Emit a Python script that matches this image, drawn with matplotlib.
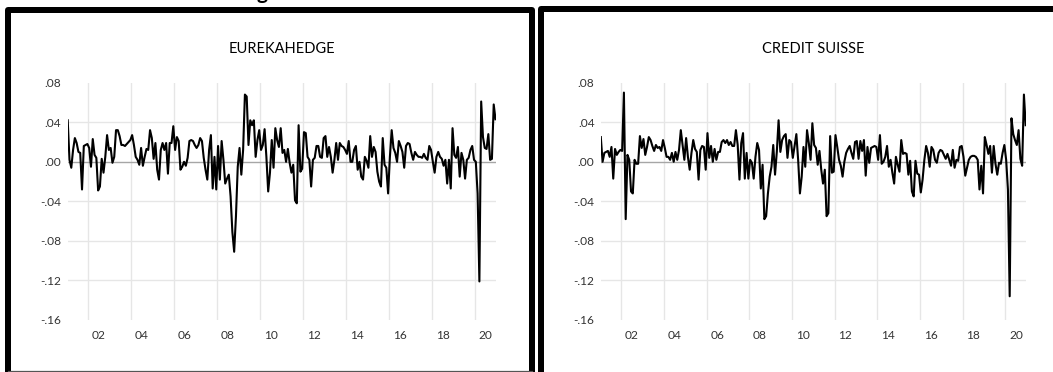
import numpy as np
import matplotlib.pyplot as plt
from matplotlib.lines import Line2D

plt.rcParams['font.family'] = ['Lato', 'DejaVu Sans']

# monthly returns, 2001M01 - 2020M12, one row per year
eurekahedge = [
    0.042, 0.002, -0.006, 0.012, 0.024, 0.019, 0.010, 0.009, -0.028, 0.016, 0.017, 0.018,
    0.014, -0.005, 0.023, 0.007, 0.004, -0.029, -0.025, 0.003, -0.011, 0.005, 0.027, 0.012,
    0.014, -0.001, 0.005, 0.032, 0.032, 0.026, 0.017, 0.017, 0.016, 0.018, 0.020, 0.022,
    0.027, 0.017, 0.005, 0.002, -0.003, 0.014, -0.004, 0.005, 0.013, 0.012, 0.032, 0.024,
    0.003, 0.019, -0.008, -0.018, 0.012, 0.019, 0.012, 0.019, -0.012, 0.019, 0.019, 0.036,
    0.012, 0.025, 0.021, -0.008, -0.005, 0.000, -0.004, 0.004, 0.021, 0.022, 0.021, 0.017,
    0.014, 0.017, 0.024, 0.021, 0.004, -0.008, -0.018, 0.012, 0.027, -0.027, 0.005, -0.028,
    0.016, -0.018, 0.021, 0.002, -0.022, -0.017, -0.013, -0.035, -0.071, -0.091, -0.055, -0.005,
    0.014, -0.013, 0.012, 0.068, 0.066, 0.017, 0.042, 0.037, 0.042, 0.005, 0.022, 0.032,
    0.012, 0.017, 0.033, 0.005, -0.030, -0.011, 0.022, -0.006, 0.034, 0.022, 0.015, 0.034,
    0.009, 0.012, 0.000, 0.013, -0.001, -0.011, -0.003, -0.039, -0.042, 0.037, -0.010, -0.007,
    0.030, 0.029, 0.005, 0.002, -0.025, 0.002, 0.004, 0.016, 0.016, 0.005, 0.004, 0.024,
    0.026, 0.005, 0.015, 0.005, -0.011, 0.002, 0.019, 0.002, 0.019, 0.016, 0.015, 0.012,
    0.008, 0.021, 0.000, 0.000, 0.012, 0.016, -0.008, 0.000, -0.015, -0.018, 0.005, 0.001,
    -0.006, 0.026, 0.005, 0.015, 0.010, -0.010, -0.020, -0.025, 0.024, -0.003, -0.006, -0.032,
    0.005, 0.032, 0.014, 0.009, 0.000, 0.021, 0.016, 0.010, -0.006, 0.016, 0.019, 0.018,
    0.009, 0.002, 0.010, 0.007, 0.005, 0.005, 0.004, 0.008, 0.004, 0.002, 0.016, 0.012,
    0.000, -0.011, 0.005, 0.010, 0.005, 0.003, -0.004, 0.002, -0.022, 0.002, -0.027, 0.034,
    0.007, 0.004, 0.015, -0.015, 0.009, 0.002, -0.017, 0.002, 0.004, 0.012, 0.016, 0.002,
    0.000, -0.032, -0.121, 0.061, 0.025, 0.014, 0.013, 0.028, 0.002, 0.003, 0.058, 0.043,
]

credit_suisse = [
    0.025, 0.000, 0.009, 0.010, 0.011, 0.005, 0.015, -0.017, 0.013, 0.007, 0.010, 0.012,
    0.011, 0.070, -0.058, 0.007, 0.002, -0.030, -0.032, 0.002, -0.002, -0.002, 0.026, 0.014,
    0.023, 0.007, 0.015, 0.025, 0.022, 0.016, 0.011, 0.017, 0.014, 0.015, 0.011, 0.022,
    0.014, 0.005, 0.005, 0.002, 0.009, 0.000, 0.010, 0.002, 0.012, 0.032, 0.017, 0.002,
    0.024, 0.005, -0.008, 0.009, 0.022, 0.013, 0.010, -0.018, 0.012, 0.016, 0.015, -0.008,
    0.029, 0.004, 0.016, 0.000, 0.013, 0.002, 0.010, 0.010, 0.020, 0.022, 0.019, 0.022,
    0.017, 0.020, 0.016, 0.016, 0.032, 0.017, -0.018, 0.019, 0.029, -0.017, 0.009, -0.017,
    0.002, -0.001, -0.017, 0.005, 0.019, 0.012, -0.027, -0.003, -0.058, -0.055, -0.032, -0.015,
    -0.005, 0.017, -0.013, 0.010, 0.042, 0.010, 0.022, 0.026, 0.028, 0.004, 0.022, 0.020,
    0.004, 0.016, 0.028, 0.002, -0.032, -0.015, 0.015, -0.005, 0.032, 0.019, 0.002, 0.039,
    0.017, 0.014, -0.003, 0.011, -0.008, -0.022, -0.008, -0.055, -0.052, 0.026, -0.011, -0.010,
    0.027, 0.015, 0.002, -0.004, -0.015, 0.000, 0.009, 0.013, 0.016, 0.009, 0.003, 0.020,
    0.021, 0.003, 0.021, 0.011, 0.022, -0.014, 0.015, -0.001, 0.014, 0.015, 0.016, 0.015,
    0.002, 0.027, -0.002, 0.000, 0.005, 0.016, -0.005, 0.002, -0.011, -0.022, 0.005, -0.003,
    -0.010, 0.022, 0.008, 0.009, 0.008, -0.013, 0.001, -0.030, -0.035, 0.001, -0.012, -0.013,
    -0.031, -0.018, 0.002, 0.016, 0.009, -0.005, 0.015, 0.012, 0.002, -0.001, 0.009, 0.012,
    0.011, 0.007, 0.003, 0.008, 0.002, -0.004, 0.012, -0.006, 0.002, 0.001, 0.015, 0.016,
    0.005, -0.014, -0.006, 0.002, 0.005, 0.006, 0.006, 0.005, 0.002, -0.028, -0.004, -0.032,
    0.025, 0.017, 0.008, 0.016, -0.011, 0.016, -0.002, -0.013, -0.001, -0.002, 0.009, 0.017,
    0.002, -0.028, -0.136, 0.044, 0.028, 0.022, 0.017, 0.032, 0.003, -0.004, 0.068, 0.037,
]

titles = ['EUREKAHEDGE', 'CREDIT SUISSE']
year_ticks = list(range(2002, 2021, 2))
year_labels = ['02', '04', '06', '08', '10', '12', '14', '16', '18', '20']
y_ticks = [0.08, 0.04, 0.00, -0.04, -0.08, -0.12, -0.16]
y_labels = ['.08', '.04', '.00', '-.04', '-.08', '-.12', '-.16']

W, H = 1053, 372
fig = plt.figure(figsize=(W / 100, H / 100), dpi=100)

# month mid-points so the year gridline sits between Dec and Jan
t = 2001 + (np.arange(len(eurekahedge)) + 0.5) / 12

def fx(px):
    return px / W

def fy(px):
    return 1 - px / H

rects = [
    [fx(67.7), fy(320), fx(495.5 - 67.7), (320 - 82.7) / H],
    [fx(600.8), fy(320), fx(1025.7 - 600.8), (320 - 82.7) / H],
]

for rect, title, series in zip(rects, titles, [eurekahedge, credit_suisse]):
    ax = fig.add_axes(rect)
    for v in [0.04, -0.04, -0.08, -0.12]:
        ax.axhline(v, color='#e6e6e6', lw=1.0, zorder=0)
    ax.axhline(0, color='#a6a6a6', lw=1.0, zorder=1)
    for yr in year_ticks:
        ax.axvline(yr, color='#e6e6e6', lw=1.0, zorder=0)
    ax.plot(t, series, color='black', lw=1.5, zorder=3)

    ax.set_xlim(t[0], t[-1])
    ax.set_ylim(-0.16, 0.08)
    ax.set_xticks([y + 0.5 for y in year_ticks])
    ax.set_xticklabels(year_labels)
    ax.set_yticks(y_ticks)
    ax.set_yticklabels(y_labels)
    ax.tick_params(length=0, labelsize=8.6, colors='#333333')
    ax.tick_params(axis='x', pad=7)
    ax.tick_params(axis='y', pad=4.5)
    for s in ax.spines.values():
        s.set_visible(False)
    ax.text(0.5, 1.143, title, transform=ax.transAxes, ha='center', va='center',
            fontsize=10.5, color='black')

# frames round the two pasted charts
frame_lw = 6 * 72 / 100
fig.add_artist(Line2D([fx(8), fx(8), fx(532), fx(532)], [fy(380), fy(10), fy(10), fy(380)],
                      color='black', lw=frame_lw, solid_joinstyle='round'))
fig.add_artist(Line2D([fx(8), fx(532)], [fy(370.7), fy(370.7)], color='#555555', lw=0.9))
fig.add_artist(Line2D([fx(541), fx(541), fx(1070)], [fy(380), fy(9), fy(9)],
                      color='black', lw=frame_lw, solid_joinstyle='round'))

# descender of the heading above, cut by the page edge as in the source
fig.text(fx(262), fy(-0.5), 'g', ha='center', va='baseline', fontsize=15, fontweight='bold')

fig.savefig('out.png', dpi=100)
